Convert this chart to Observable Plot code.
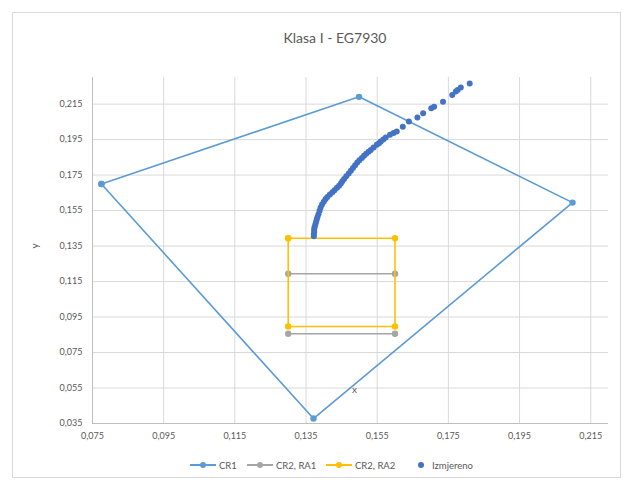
<!DOCTYPE html>
<html><head><meta charset="utf-8">
<script src="https://cdn.jsdelivr.net/npm/d3@7"></script>
<script src="https://cdn.jsdelivr.net/npm/@observablehq/plot@0.6"></script>
<style>
body{margin:0;background:#fff;font-family:Lato,"Open Sans",sans-serif;}
#wrap{position:relative;width:634px;height:489px;overflow:hidden;background:#fff;}
#frame{position:absolute;left:12px;top:12px;width:609px;height:466px;border:1px solid #D9D9D9;box-sizing:border-box;}
#title{position:absolute;top:29px;left:235px;width:200px;text-align:center;font-size:14px;color:#595959;}
#chart{position:absolute;left:0;top:0;}
.axt{position:absolute;font-size:10px;color:#595959;}
#ylab{left:31px;top:240px;transform:rotate(-90deg);}
#xlab{left:352px;top:383px;}
#legend{position:absolute;top:457px;left:0;width:634px;height:16px;font-size:9.5px;color:#595959;}
.li{position:absolute;top:0;display:flex;align-items:center;height:16px;}
.li svg{margin-right:3px;}
</style>
</head><body>
<div id="wrap">
  <div id="frame"></div>
  <div id="title">Klasa I - EG7930</div>
  <div id="chart"></div>
  <div class="axt" id="ylab">y</div>
  <div class="axt" id="xlab">x</div>
  <div id="legend"></div>
</div>
<script>
// Axis ticks
const xTicks = [0.075, 0.095, 0.115, 0.135, 0.155, 0.175, 0.195, 0.215];
const yTicks = [0.035, 0.055, 0.075, 0.095, 0.115, 0.135, 0.155, 0.175, 0.195, 0.215];

// Series: CR1 (closed polygon)
const cr1X = [0.0775, 0.1499, 0.2099, 0.1371, 0.0775];
const cr1Y = [0.1700, 0.2191, 0.1595, 0.0378, 0.1700];

// Series: CR2, RA1 (two horizontal segments)
const ra1X = [0.130, 0.160, 0.130, 0.160];
const ra1Y = [0.1194, 0.1194, 0.0856, 0.0856];
const ra1Seg = [1, 1, 2, 2];

// Series: CR2, RA2 (rectangle)
const ra2X = [0.130, 0.160, 0.160, 0.130, 0.130];
const ra2Y = [0.1394, 0.1394, 0.0897, 0.0897, 0.1394];

// Series: Izmjereno (measured points)
const measX = [0.1372,0.1372,0.1373,0.1373,0.1374,0.1376,0.1378,0.1380,0.1382,0.1385,0.1388,0.1391,0.1395,0.1400,0.1405,0.1410,0.1417,0.1424,0.1430,0.1437,0.1443,0.1448,0.1452,0.1457,0.1463,0.1470,0.1476,0.1482,0.1488,0.1494,0.1500,0.1507,0.1513,0.1519,0.1526,0.1532,0.1540,0.1549,0.1555,0.1560,0.1567,0.1574,0.1586,0.1596,0.1605,0.1622,0.1639,0.1663,0.1679,0.1702,0.1710,0.1735,0.1761,0.1771,0.1776,0.1785,0.1810];
const measY = [0.1405,0.1418,0.1430,0.1443,0.1456,0.1470,0.1484,0.1498,0.1512,0.1530,0.1549,0.1568,0.1584,0.1600,0.1615,0.1627,0.1640,0.1653,0.1665,0.1678,0.1690,0.1703,0.1715,0.1728,0.1743,0.1759,0.1774,0.1790,0.1806,0.1821,0.1834,0.1847,0.1859,0.1870,0.1881,0.1891,0.1905,0.1921,0.1930,0.1939,0.1950,0.1962,0.1977,0.1987,0.1996,0.2022,0.2052,0.2074,0.2099,0.2127,0.2135,0.2164,0.2202,0.2221,0.2230,0.2243,0.2266];

const seriesNames = ["CR1", "CR2, RA1", "CR2, RA2", "Izmjereno"];
const colors = ["#5B9BD5", "#A5A5A5", "#FFC000", "#4472C4"];

const cr1 = cr1X.map((x, i) => ({x, y: cr1Y[i]}));
const ra1 = ra1X.map((x, i) => ({x, y: ra1Y[i], s: ra1Seg[i]}));
const ra2 = ra2X.map((x, i) => ({x, y: ra2Y[i]}));
const meas = measX.map((x, i) => ({x, y: measY[i]}));

const fmt = d => d3.format(".3f")(d).replace(".", ",");

const chart = Plot.plot({
  width: 634, height: 489,
  marginLeft: 92, marginRight: 26, marginTop: 77, marginBottom: 66,
  style: {fontFamily: "Lato, 'Open Sans', sans-serif", fontSize: "9px", color: "#595959", background: "transparent"},
  x: {domain: [0.075, 0.22], label: null},
  y: {domain: [0.035, 0.23], label: null},
  marks: [
    Plot.gridX(xTicks, {stroke: "#D9D9D9", strokeOpacity: 1}),
    Plot.gridY(yTicks, {stroke: "#D9D9D9", strokeOpacity: 1}),
    Plot.ruleY([0.035], {stroke: "#BFBFBF"}),
    Plot.ruleX([0.075], {stroke: "#BFBFBF"}),
    Plot.axisX(xTicks, {tickSize: 0, tickPadding: 9, tickFormat: fmt, label: null}),
    Plot.axisY(yTicks, {tickSize: 0, tickPadding: 10, tickFormat: fmt, label: null}),
    Plot.line(cr1, {x: "x", y: "y", stroke: colors[0], strokeWidth: 1.6}),
    Plot.dot(cr1, {x: "x", y: "y", r: 3.2, fill: colors[0], stroke: "none"}),
    Plot.line(ra1, {x: "x", y: "y", z: "s", stroke: colors[1], strokeWidth: 1.6}),
    Plot.dot(ra1, {x: "x", y: "y", r: 3.2, fill: colors[1], stroke: "none"}),
    Plot.line(ra2, {x: "x", y: "y", stroke: colors[2], strokeWidth: 1.6}),
    Plot.dot(ra2, {x: "x", y: "y", r: 3.2, fill: colors[2], stroke: "none"}),
    Plot.dot(meas, {x: "x", y: "y", r: 3, fill: colors[3], stroke: "none"})
  ]
});
document.getElementById("chart").appendChild(chart);

// Legend
const legend = d3.select("#legend");
const legendX = [190, 247, 326, 415];
seriesNames.forEach((name, i) => {
  const item = legend.append("div").attr("class", "li").style("left", legendX[i] + "px");
  const sw = item.append("svg").attr("width", i < 3 ? 26 : 14).attr("height", 10);
  if (i < 3) {
    sw.append("line").attr("x1", 0).attr("x2", 26).attr("y1", 5).attr("y2", 5)
      .attr("stroke", colors[i]).attr("stroke-width", 2);
    sw.append("circle").attr("cx", 13).attr("cy", 5).attr("r", 3).attr("fill", colors[i]);
  } else {
    sw.append("circle").attr("cx", 6).attr("cy", 5).attr("r", 3).attr("fill", colors[i]);
  }
  item.append("span").text(name);
});
</script>
</body></html>
